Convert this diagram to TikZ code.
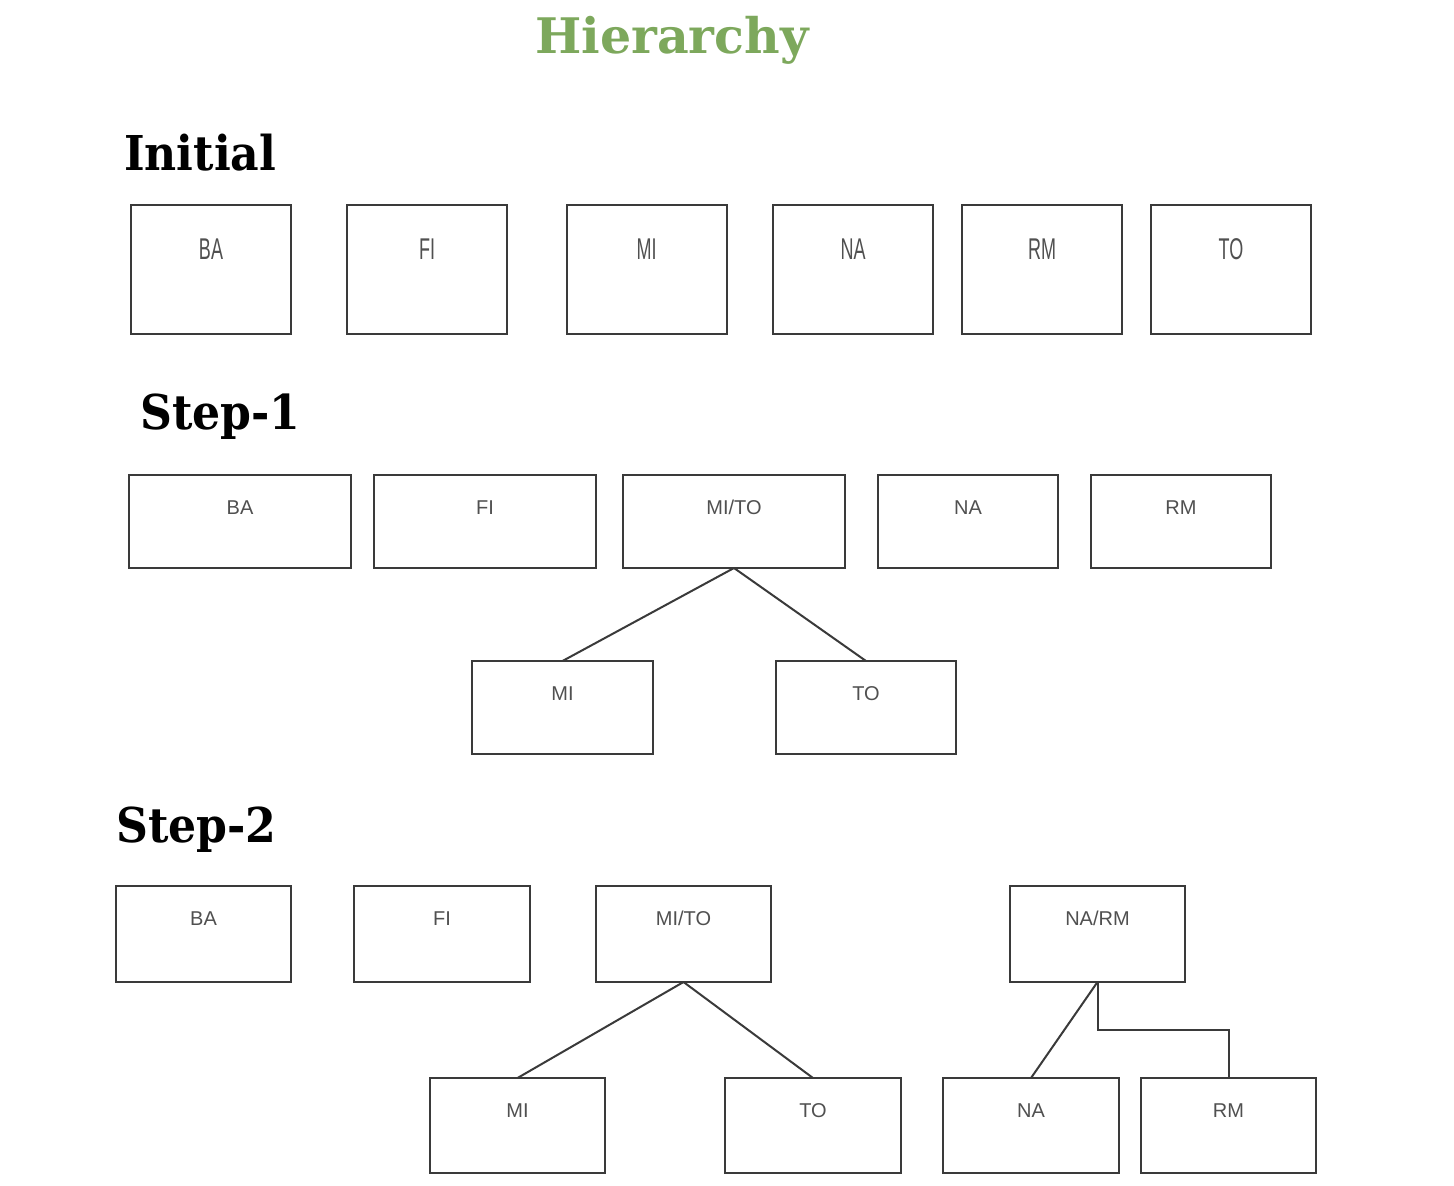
\documentclass[tikz,border=0pt]{standalone}
\usepackage{fontspec}
\setmainfont{Liberation Sans}
\newfontfamily\headf[FakeStretch=0.92]{DejaVu Serif}
\newfontfamily\titlef{DejaVu Serif}
\newfontfamily\narrowf[FakeStretch=0.6]{Liberation Sans}
\definecolor{titlegreen}{HTML}{7DA85C}
\definecolor{boxline}{HTML}{3A3A3A}
\definecolor{lblgray}{HTML}{505050}
\tikzset{
  box/.style={draw=boxline, line width=2pt, inner sep=0pt, outer sep=0pt, fill=white},
  ibox/.style={box, minimum width=160pt, minimum height=129pt},
  lblI/.style={inner sep=0pt, anchor=north, yshift=-33pt, text=lblgray, font=\narrowf\fontsize{30}{30}\selectfont, text height=21pt},
  lblS/.style={inner sep=0pt, anchor=north, yshift=-25pt, text=lblgray, font=\fontsize{20}{20}\selectfont, text height=14pt},
  head/.style={inner sep=0pt, anchor=west, font=\headf\bfseries\fontsize{48}{48}\selectfont},
  link/.style={draw=boxline, line width=2pt}
}
\begin{document}
\begin{tikzpicture}[x=1pt,y=-1pt]
\useasboundingbox (0,0) rectangle (1454,1186);
\node[inner sep=0pt, text=titlegreen, font=\titlef\bfseries\fontsize{49}{49}\selectfont] (title) at (672,40) {Hierarchy};
\node[head] (hinit) at (124,153) {Initial};
\node[head] (hstep1) at (140,417) {Step-1};
\node[head] (hstep2) at (116,830) {Step-2};
% Initial
\node[ibox, label={[lblI]north:BA}] (iba) at (211,269.5) {};
\node[ibox, label={[lblI]north:FI}] (ifi) at (427,269.5) {};
\node[ibox, label={[lblI]north:MI}] (imi) at (646.5,269.5) {};
\node[ibox, label={[lblI]north:NA}] (ina) at (853,269.5) {};
\node[ibox, label={[lblI]north:RM}] (irm) at (1042,269.5) {};
\node[ibox, label={[lblI]north:TO}] (ito) at (1231,269.5) {};
% Step-1
\node[box, minimum width=222pt, minimum height=93pt, label={[lblS]north:BA}] (aba) at (240,521.5) {};
\node[box, minimum width=222pt, minimum height=93pt, label={[lblS]north:FI}] (afi) at (485,521.5) {};
\node[box, minimum width=222pt, minimum height=93pt, label={[lblS]north:MI/TO}] (amt) at (734,521.5) {};
\node[box, minimum width=180pt, minimum height=93pt, label={[lblS]north:NA}] (ana) at (968,521.5) {};
\node[box, minimum width=180pt, minimum height=93pt, label={[lblS]north:RM}] (arm) at (1181,521.5) {};
\node[box, minimum width=181pt, minimum height=93pt, label={[lblS]north:MI}] (ami) at (562.5,707.5) {};
\node[box, minimum width=180pt, minimum height=93pt, label={[lblS]north:TO}] (ato) at (866,707.5) {};
\draw[link] (amt.south) -- (ami.north);
\draw[link] (amt.south) -- (ato.north);
% Step-2
\node[box, minimum width=175pt, minimum height=96pt, label={[lblS]north:BA}] (bba) at (203.5,934) {};
\node[box, minimum width=176pt, minimum height=96pt, label={[lblS]north:FI}] (bfi) at (442,934) {};
\node[box, minimum width=175pt, minimum height=96pt, label={[lblS]north:MI/TO}] (bmt) at (683.5,934) {};
\node[box, minimum width=175pt, minimum height=96pt, label={[lblS]north:NA/RM}] (bnr) at (1097.5,934) {};
\node[box, minimum width=175pt, minimum height=95pt, label={[lblS]north:MI}] (bmi) at (517.5,1125.5) {};
\node[box, minimum width=176pt, minimum height=95pt, label={[lblS]north:TO}] (bto) at (813,1125.5) {};
\node[box, minimum width=176pt, minimum height=95pt, label={[lblS]north:NA}] (bna) at (1031,1125.5) {};
\node[box, minimum width=175pt, minimum height=95pt, label={[lblS]north:RM}] (brm) at (1228.5,1125.5) {};
\draw[link] (bmt.south) -- (bmi.north);
\draw[link] (bmt.south) -- (bto.north);
\draw[link] (bnr.south) -- (bna.north);
\draw[link] (bnr.south) -- ++(0,48) -| (brm.north);
\end{tikzpicture}
\end{document}
